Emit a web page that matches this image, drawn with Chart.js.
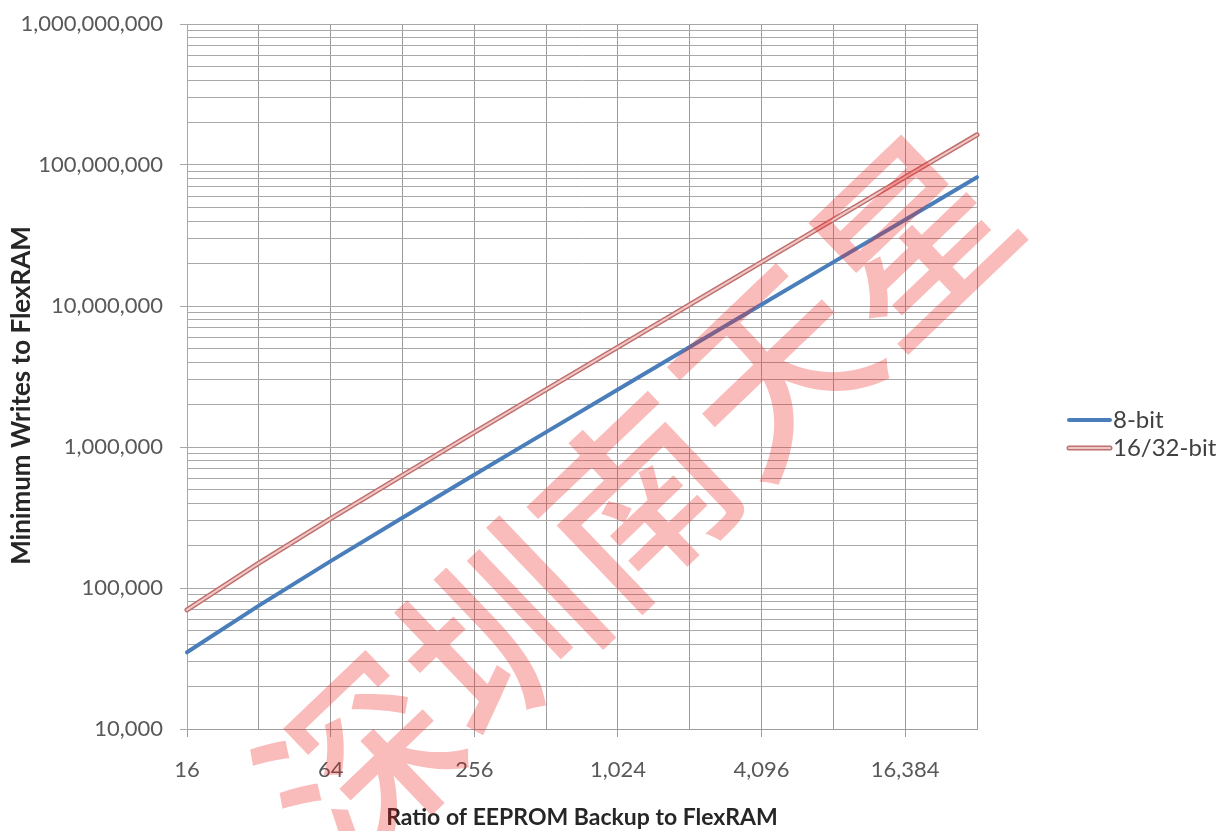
<!DOCTYPE html>
<html>
<head>
<meta charset="utf-8">
<script src="https://cdn.jsdelivr.net/npm/chart.js@4.4.1/dist/chart.umd.min.js"></script>
<style>
  html, body { margin: 0; padding: 0; background: #fff; }
</style>
</head>
<body>
<canvas id="writes-chart" width="1226" height="831"></canvas>
<script>
// EEPROM backup / FlexRAM ratio vs. minimum FlexRAM writes
const ratios = [16, 32, 64, 128, 256, 512, 1024, 2048, 4096, 8192, 16384, 32768];
const writes8bit = [35000, 75000, 155000, 315000, 635000, 1275000, 2555000, 5115000, 10235000, 20475000, 40955000, 81915000];
const writes16bit = [70000, 150000, 310000, 630000, 1270000, 2550000, 5110000, 10230000, 20470000, 40950000, 81910000, 163830000];
const seriesNames = ['8-bit', '16/32-bit'];
const xLabelValues = [16, 64, 256, 1024, 4096, 16384];
const yLabelValues = [10000, 100000, 1000000, 10000000, 100000000, 1000000000];
const watermarkText = '深圳南天星';

// one gridline per 1..9 step of every decade
const yGridValues = [];
for (let i = 0; i < yLabelValues.length - 1; i++) {
    for (let k = 1; k <= 9; k++) yGridValues.push(yLabelValues[i] * k);
}
yGridValues.push(yLabelValues[yLabelValues.length - 1]);

const labelFont = { family: 'Lato', size: 22 };

// red series is drawn as a compound line: dark edge with a light core
const doubleLine = {
    id: 'doubleLine',
    afterDatasetsDraw(chart) {
        const ctx = chart.ctx;
        chart.data.datasets.forEach((ds, i) => {
            if (!ds.innerColor) return;
            const pts = chart.getDatasetMeta(i).data;
            ctx.save();
            ctx.strokeStyle = ds.innerColor;
            ctx.lineWidth = 2;
            ctx.lineCap = 'round';
            ctx.beginPath();
            pts.forEach((p, j) => j ? ctx.lineTo(p.x, p.y) : ctx.moveTo(p.x, p.y));
            ctx.stroke();
            ctx.restore();
        });
    }
};

// legend sits well right of the plot, so draw it by hand
const sideLegend = {
    id: 'sideLegend',
    afterDraw(chart) {
        const ctx = chart.ctx;
        const x = chart.chartArea.right + 92;
        let y = 420;
        ctx.save();
        ctx.font = '24px Lato';
        ctx.textBaseline = 'middle';
        chart.data.datasets.forEach(ds => {
            ctx.strokeStyle = ds.borderColor;
            ctx.lineWidth = ds.borderWidth;
            ctx.lineCap = 'round';
            ctx.beginPath();
            ctx.moveTo(x, y);
            ctx.lineTo(x + 41, y);
            ctx.stroke();
            if (ds.innerColor) {
                ctx.strokeStyle = ds.innerColor;
                ctx.lineWidth = 2;
                ctx.stroke();
            }
            ctx.fillStyle = '#404040';
            ctx.fillText(ds.label, x + 44, y);
            y += 28;
        });
        ctx.restore();
    }
};

const watermark = {
    id: 'watermark',
    afterDraw(chart) {
        const ctx = chart.ctx;
        ctx.save();
        ctx.translate(636, 500);
        ctx.rotate(-0.763);
        ctx.font = '500 190px "Noto Sans CJK SC"';
        ctx.textAlign = 'center';
        ctx.textBaseline = 'middle';
        ctx.fillStyle = 'rgba(240, 30, 30, 0.3)';
        ctx.fillText(watermarkText, 0, 0);
        ctx.restore();
    }
};

const canvas = document.querySelector('#writes-chart');

new Chart(canvas.getContext('2d'), {
    type: 'line',
    data: {
        datasets: [
            {
                label: seriesNames[0],
                data: ratios.map((r, i) => ({ x: r, y: writes8bit[i] })),
                borderColor: '#4a7ebb',
                borderWidth: 4,
            },
            {
                label: seriesNames[1],
                data: ratios.map((r, i) => ({ x: r, y: writes16bit[i] })),
                borderColor: '#c0706d',
                innerColor: '#f0c8c8',
                borderWidth: 5,
            }
        ]
    },
    options: {
        responsive: false,
        animation: false,
        layout: { padding: { top: 24, right: 249, bottom: 0, left: 0 } },
        elements: {
            point: { radius: 0 },
            line: { tension: 0, borderCapStyle: 'round' }
        },
        datasets: { line: { clip: false } },
        plugins: {
            legend: { display: false },
            tooltip: { enabled: false }
        },
        scales: {
            x: {
                type: 'logarithmic',
                min: 16,
                max: 32768,
                afterBuildTicks: scale => { scale.ticks = ratios.map(v => ({ value: v })); },
                afterFit: scale => {
                    scale.height = 102;
                    scale.paddingLeft = 0;
                    scale.paddingRight = 0;
                },
                grid: {
                    color: '#9c9c9c',
                    tickLength: 8,
                    tickColor: ctx => xLabelValues.includes(ctx.tick && ctx.tick.value) ? '#9c9c9c' : 'rgba(0,0,0,0)'
                },
                border: { color: '#9c9c9c' },
                ticks: {
                    autoSkip: false,
                    maxRotation: 0,
                    padding: 20,
                    color: '#595959',
                    font: labelFont,
                    callback: v => xLabelValues.includes(v) ? v.toLocaleString('en-US') : ''
                },
                title: {
                    display: true,
                    text: 'Ratio of EEPROM Backup to FlexRAM',
                    color: '#262626',
                    font: { family: 'Lato', size: 23, weight: 'bold' },
                    padding: { top: 0, bottom: 0 }
                }
            },
            y: {
                type: 'logarithmic',
                min: 10000,
                max: 1000000000,
                afterBuildTicks: scale => { scale.ticks = yGridValues.map(v => ({ value: v })); },
                afterFit: scale => {
                    scale.width = 187;
                    scale.paddingTop = 0;
                    scale.paddingBottom = 0;
                },
                grid: {
                    color: '#a8a8a8',
                    tickLength: 7,
                    tickColor: ctx => yLabelValues.includes(ctx.tick && ctx.tick.value) ? '#a8a8a8' : 'rgba(0,0,0,0)'
                },
                border: { color: '#a8a8a8' },
                ticks: {
                    autoSkip: false,
                    padding: 17,
                    color: '#595959',
                    font: labelFont,
                    callback: v => yLabelValues.includes(v) ? v.toLocaleString('en-US') : ''
                },
                title: {
                    display: true,
                    // trailing spaces nudge the rotated title a little lower
                    text: 'Minimum Writes to FlexRAM      ',
                    color: '#262626',
                    font: { family: 'Lato', size: 26, weight: 'bold' },
                    padding: { top: 6, bottom: 0 }
                }
            }
        }
    },
    plugins: [doubleLine, sideLegend, watermark]
});
</script>
</body>
</html>
